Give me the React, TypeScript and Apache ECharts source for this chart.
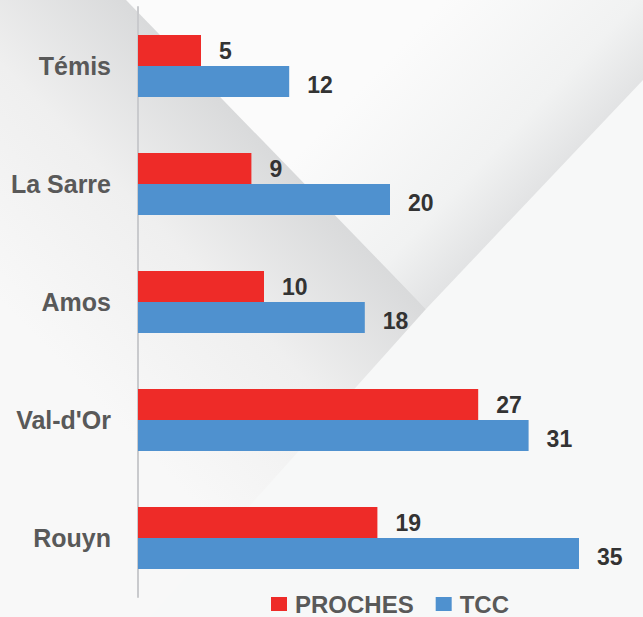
import React, { useEffect, useRef } from "react";
import * as echarts from "echarts";

const categories = ["Témis", "La Sarre", "Amos", "Val-d'Or", "Rouyn"];
const prochesValues = [5, 9, 10, 27, 19];
const tccValues = [12, 20, 18, 31, 35];
const seriesNames = ["PROCHES", "TCC"];

const FONT = "'Liberation Sans', Arial, sans-serif";

export default function App() {
  const ref = useRef<HTMLDivElement>(null);
  useEffect(() => {
    if (!ref.current) return;
    const chart = echarts.init(ref.current, null, { renderer: "svg" });
    const lg = (x: number, y: number, x2: number, y2: number, stops: [number, string][]) => ({
      type: "linear",
      x,
      y,
      x2,
      y2,
      global: true,
      colorStops: stops.map(([offset, color]) => ({ offset, color })),
    });
    chart.setOption({
      animation: false,
      backgroundColor: "#f7f8f8",
      graphic: [
        {
          type: "polygon",
          silent: true,
          z: -10,
          shape: { points: [[126, 0], [643, 0], [643, 80], [426, 309]] },
          style: {
            fill: lg(390, 57, 534, 195, [
              [0, "#fbfbfb"],
              [0.7, "#f1f2f2"],
              [1, "#e2e3e4"],
            ]),
          },
        },
        {
          type: "polygon",
          silent: true,
          z: -10,
          shape: { points: [[0, 0], [126, 0], [426, 309], [150, 617], [0, 617]] },
          style: {
            fill: lg(60, 363, 276, 155, [
              [0, "#f8f8f8"],
              [0.55, "#efefef"],
              [1, "#d9dadb"],
            ]),
          },
        },
      ],
      grid: { left: 138, right: 64, top: 7, bottom: 20, containLabel: false },
      legend: {
        data: seriesNames,
        left: 271,
        top: 592,
        padding: 0,
        icon: "rect",
        itemWidth: 16,
        itemHeight: 14,
        itemGap: 22,
        textStyle: {
          fontSize: 24,
          lineHeight: 24,
          fontWeight: "bold",
          color: "#595959",
          fontFamily: FONT,
          padding: [0, 0, 0, 3],
        },
      },
      xAxis: {
        type: "value",
        min: 0,
        max: 35,
        show: false,
      },
      yAxis: {
        type: "category",
        inverse: true,
        data: categories,
        axisLine: { show: true, lineStyle: { color: "#c9cacd", width: 2 } },
        axisTick: { show: false },
        axisLabel: {
          margin: 27,
          fontSize: 25,
          fontWeight: "bold",
          color: "#595959",
          fontFamily: FONT,
        },
        splitLine: { show: false },
      },
      series: [
        {
          name: seriesNames[0],
          type: "bar",
          data: prochesValues,
          barWidth: 31,
          barGap: "0%",
          itemStyle: { color: "#ee2b28" },
          label: {
            show: true,
            position: "right",
            distance: 18,
            fontSize: 23,
            fontWeight: "bold",
            color: "#333333",
            fontFamily: FONT,
          },
        },
        {
          name: seriesNames[1],
          type: "bar",
          data: tccValues,
          barWidth: 31,
          barGap: "0%",
          itemStyle: { color: "#4f91cf" },
          label: {
            show: true,
            position: "right",
            distance: 18,
            offset: [0, 3],
            fontSize: 23,
            fontWeight: "bold",
            color: "#333333",
            fontFamily: FONT,
          },
        },
      ],
    });
    return () => chart.dispose();
  }, []);
  return (
    <div
      ref={ref}
      style={{ position: "absolute", left: 0, top: 0, width: 643, height: 617 }}
    />
  );
}
